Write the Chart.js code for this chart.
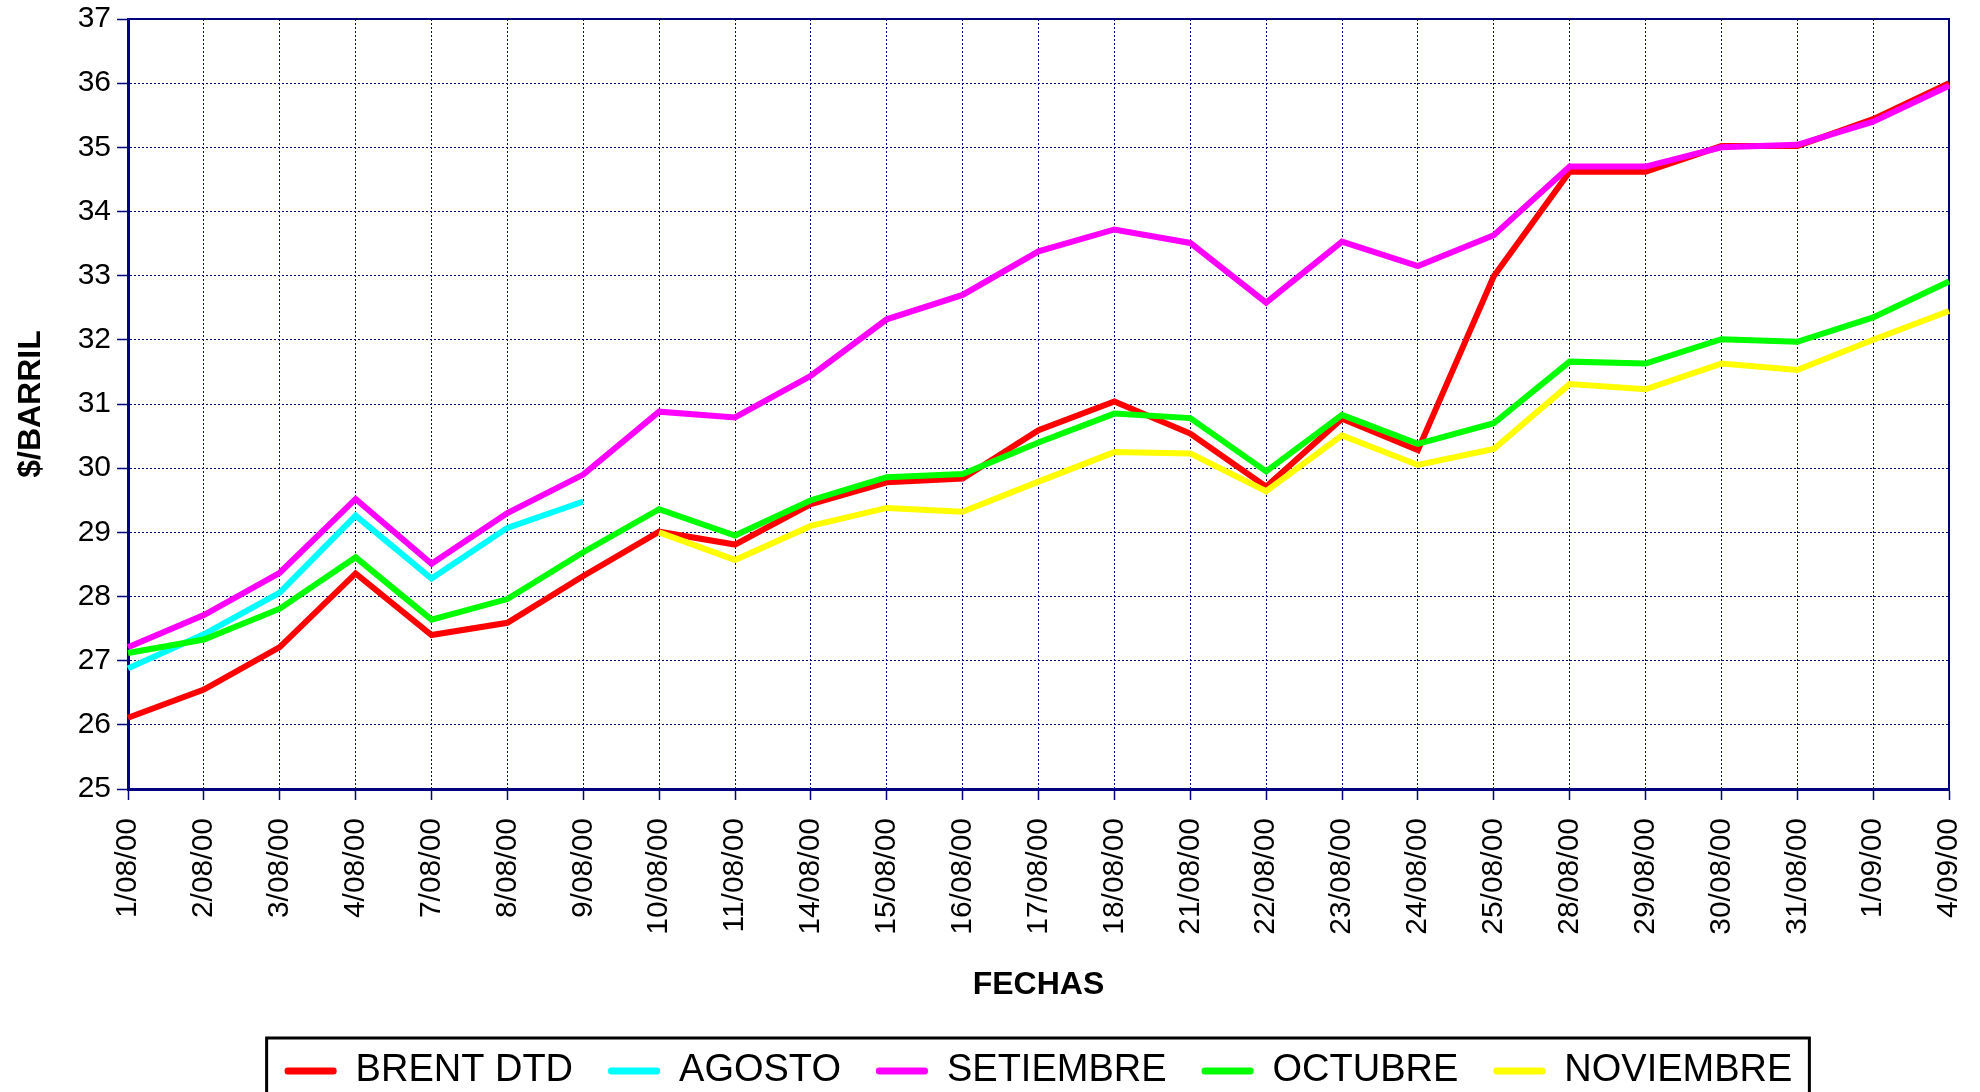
<!DOCTYPE html>
<html>
<head>
<meta charset="utf-8">
<script src="https://cdn.jsdelivr.net/npm/chart.js@4/dist/chart.umd.min.js"></script>
<style>
  html, body { margin: 0; padding: 0; background: #fff; overflow: hidden; }
  #wrap { width: 1980px; height: 1100px; position: relative; }
</style>
</head>
<body>
<div id="wrap"><canvas id="chart"></canvas></div>
<script>
const fechas = ['1/08/00', '2/08/00', '3/08/00', '4/08/00', '7/08/00', '8/08/00', '9/08/00',
  '10/08/00', '11/08/00', '14/08/00', '15/08/00', '16/08/00', '17/08/00', '18/08/00',
  '21/08/00', '22/08/00', '23/08/00', '24/08/00', '25/08/00', '28/08/00', '29/08/00',
  '30/08/00', '31/08/00', '1/09/00', '4/09/00'];

const brentDtd = [26.11, 26.55, 27.21, 28.36, 27.40, 27.59, 28.32, 29.01, 28.81, 29.44, 29.78, 29.84,
  30.59, 31.04, 30.54, 29.71, 30.77, 30.28, 32.99, 34.62, 34.62, 35.02, 35.02, 35.44, 36.00];
const agosto = [26.88, 27.41, 28.06, 29.26, 28.28, 29.07, 29.48];
const setiembre = [27.21, 27.71, 28.37, 29.52, 28.51, 29.30, 29.90, 30.88, 30.79, 31.44, 32.32, 32.70,
  33.38, 33.72, 33.51, 32.58, 33.53, 33.15, 33.63, 34.70, 34.70, 35.00, 35.04, 35.40, 35.96];
const octubre = [27.12, 27.33, 27.81, 28.61, 27.64, 27.96, 28.69, 29.36, 28.95, 29.50, 29.86, 29.91,
  30.40, 30.85, 30.78, 29.95, 30.83, 30.38, 30.70, 31.66, 31.63, 32.01, 31.97, 32.35, 32.91];
const noviembre = [null, null, null, null, null, null, null, 29.00, 28.57, 29.10, 29.38, 29.32,
  29.79, 30.25, 30.23, 29.64, 30.51, 30.05, 30.30, 31.31, 31.23, 31.63, 31.53, 32.00, 32.45];

const yMin = 25;
const yMax = 37;

const NAVY = '#000080';
const FONT = 'Liberation Sans, Arial, sans-serif';

// solid frame on top/right of the plot, legend frame round the legend
const framePlugin = {
  id: 'frames',
  beforeDatasetsDraw(chart) {
    const { ctx, chartArea: a } = chart;
    ctx.save();
    ctx.strokeStyle = NAVY;
    ctx.lineWidth = 2;
    ctx.beginPath();
    ctx.moveTo(a.left, a.top);
    ctx.lineTo(a.right, a.top);
    ctx.lineTo(a.right, a.bottom);
    ctx.stroke();
    ctx.restore();
  },
  afterDraw(chart) {
    const boxes = chart.legend && chart.legend.legendHitBoxes;
    if (!boxes || !boxes.length) return;
    const first = boxes[0];
    const last = boxes[boxes.length - 1];
    const { ctx } = chart;
    ctx.save();
    ctx.strokeStyle = '#000';
    ctx.lineWidth = 3;
    ctx.strokeRect(first.left - 18, first.top - 14,
      last.left + last.width + 17 - (first.left - 18), chart.height);
    ctx.restore();
  }
};

function serie(label, data, color, order) {
  return {
    label,
    data,
    borderColor: color,
    backgroundColor: color,
    borderWidth: 6,
    pointRadius: 0,
    tension: 0,
    order
  };
}

function initChart() {
  const ctx = document.getElementById('chart').getContext('2d');
  new Chart(ctx, {
    type: 'line',
    data: {
      labels: fechas,
      datasets: [
        serie('BRENT DTD', brentDtd, '#ff0000', 5),
        serie('AGOSTO', agosto, '#00ffff', 4),
        serie('SETIEMBRE', setiembre, '#ff00ff', 3),
        serie('OCTUBRE', octubre, '#00ff00', 2),
        serie('NOVIEMBRE', noviembre, '#ffff00', 1)
      ]
    },
    options: {
      responsive: true,
      maintainAspectRatio: false,
      animation: false,
      devicePixelRatio: 1,
      layout: { padding: { left: 0, top: 19, right: 31, bottom: 0 } },
      plugins: {
        tooltip: { enabled: false },
        legend: {
          position: 'bottom',
          fullSize: false,
          labels: {
            color: '#000',
            font: { family: FONT, size: 38 },
            boxWidth: 52,
            boxHeight: 7,
            padding: 35,
            sort: (a, b) => a.datasetIndex - b.datasetIndex,
            generateLabels: (chart) =>
              Chart.defaults.plugins.legend.labels.generateLabels(chart)
                .map(item => ({ ...item, lineWidth: 0, borderRadius: 3 }))
          }
        }
      },
      scales: {
        x: {
          afterFit: (scale) => {
            scale.height = 228;
            scale.paddingLeft = 0;
            scale.paddingRight = 0;
          },
          grid: {
            color: NAVY,
            lineWidth: 1,
            tickLength: 11,
            tickColor: NAVY,
            tickWidth: 1.5
          },
          border: { color: NAVY, width: 3, dash: [2, 2] },
          ticks: {
            color: '#000',
            font: { family: FONT, size: 30 },
            autoSkip: false,
            minRotation: 90,
            maxRotation: 90,
            padding: 18
          },
          title: {
            display: true,
            text: 'FECHAS',
            color: '#000',
            font: { family: FONT, size: 32, weight: 'bold' },
            padding: { top: 0, bottom: 13 }
          }
        },
        y: {
          min: yMin,
          max: yMax,
          afterFit: (scale) => {
            scale.width = 128;
            scale.paddingTop = 0;
            scale.paddingBottom = 0;
          },
          grid: {
            color: NAVY,
            lineWidth: 1,
            tickLength: 11,
            tickColor: NAVY,
            tickWidth: 1.5
          },
          border: { color: NAVY, width: 3, dash: [2, 2] },
          ticks: {
            stepSize: 1,
            color: '#000',
            font: { family: FONT, size: 30 },
            padding: 6
          },
          title: {
            display: true,
            text: '$/BARRIL',
            color: '#000',
            font: { family: FONT, size: 32, weight: 'bold' },
            padding: { top: 12, bottom: 0 }
          }
        }
      }
    },
    plugins: [framePlugin]
  });
}

document.addEventListener('DOMContentLoaded', initChart);
</script>
</body>
</html>
